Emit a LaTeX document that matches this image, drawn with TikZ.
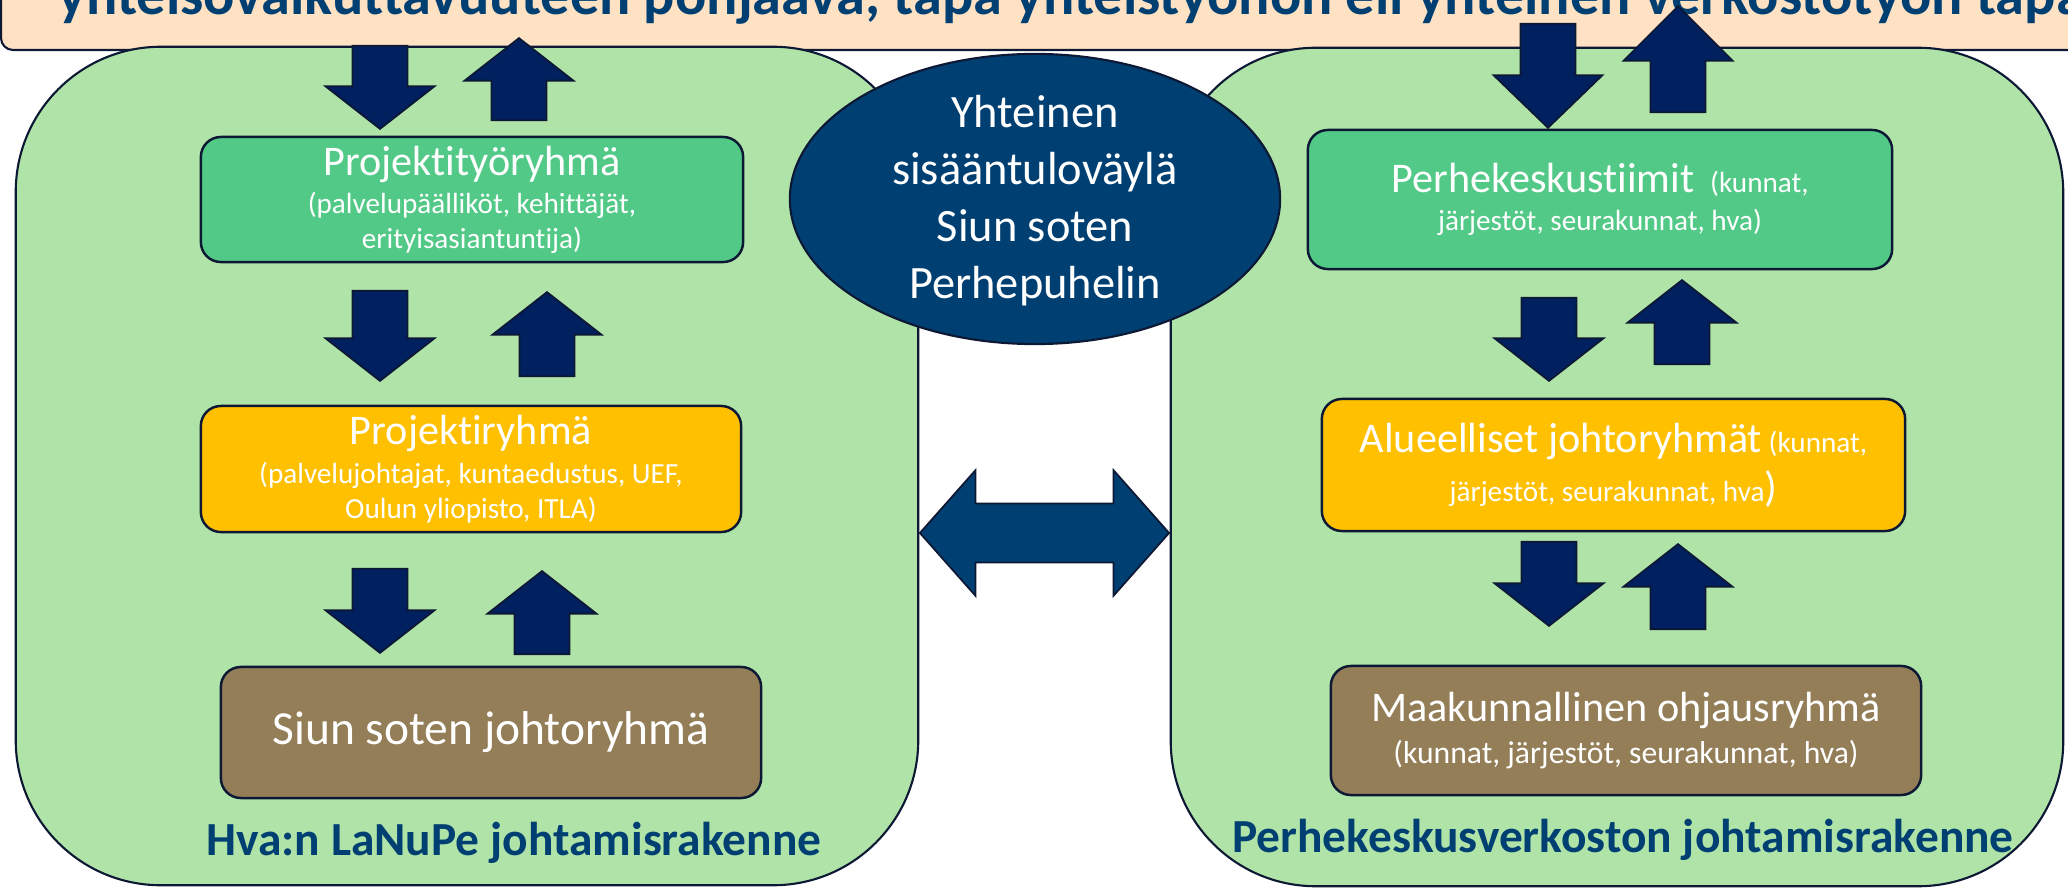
\documentclass[tikz,border=0pt]{standalone}
\usepackage{fontspec}
\setmainfont{Carlito}[Ligatures=NoCommon]
\usetikzlibrary{shapes.geometric,shapes.arrows}

\definecolor{bannerpeach}{RGB}{255,226,196}
\definecolor{visionblue}{RGB}{0,63,114}
\definecolor{areagreen}{RGB}{176,227,168}
\definecolor{teamgreen}{RGB}{82,201,135}
\definecolor{groupgold}{RGB}{255,192,0}
\definecolor{boardbrown}{RGB}{147,126,88}
\definecolor{arrownavy}{RGB}{0,32,96}
\definecolor{edgenavy}{RGB}{12,24,52}

\newcommand{\unittitle}{\fontsize{12}{14}\selectfont}
\newcommand{\unitsub}{\fontsize{8.3}{10}\selectfont}

\begin{document}
\begin{tikzpicture}[x=0.01cm, y=-0.01cm,
  area/.style={draw=edgenavy, line width=0.6pt, fill=areagreen, rounded corners=1.45cm, minimum height=8.38cm},
  arealabel/.style={anchor=base, text=visionblue, font=\bfseries\fontsize{13.5}{16}\selectfont},
  unit/.style={draw=edgenavy, line width=0.7pt, rounded corners=0.2cm, text=white, align=center, inner sep=0pt, font=\unitsub},
  blockarrow/.style={single arrow, draw=edgenavy, line width=0.5pt, fill=arrownavy, inner sep=0pt, inner ysep=0.265cm, minimum width=0pt, single arrow head extend=0.27cm, single arrow tip angle=104, anchor=tip},
  downarrow/.style={blockarrow, rotate=-90, minimum height=#1},
  uparrow/.style={blockarrow, rotate=90, minimum height=#1}]
  \useasboundingbox (0,0) rectangle (2068,888);

  \draw[edgenavy, line width=0.6pt, fill=bannerpeach, rounded corners=0.12cm] (1,-80) rectangle (2150,50);
  \node[anchor=base west, inner sep=0pt, text=visionblue, font=\bfseries\fontsize{16.6}{20}\selectfont] (visio) at (58,15) {yhteisövaikuttavuuteen pohjaava, tapa yhteistyöhön eli yhteinen verkostotyön tapa};

  \node[area, minimum width=9.02cm] (hva) at (467,466) {};
  \node[area, minimum width=8.92cm] (verkosto) at (1617,467) {};

  \node[ellipse, draw=edgenavy, line width=0.6pt, fill=visionblue, minimum width=4.9cm, minimum height=2.9cm] (vayla) at (1035,199) {};
  \node[text=white, align=center, font=\fontsize{13.2}{16.2}\selectfont] (vaylateksti) at (1035,201) {Yhteinen\\sisääntuloväylä\\Siun soten\\Perhepuhelin};

  \node[double arrow, draw=edgenavy, line width=0.5pt, fill=visionblue, inner sep=0pt, inner ysep=0.285cm, minimum width=0pt, double arrow head extend=0.335cm, double arrow tip angle=97, minimum height=2.49cm] (yhteys) at (1044.5,533) {};

  \node[unit, fill=teamgreen, minimum width=5.42cm, minimum height=1.25cm] (tyoryhma) at (472,199.5) {{\unittitle Projektityöryhmä}\\[0.8pt](palvelupäälliköt, kehittäjät,\\erityisasiantuntija)};
  \node[unit, fill=groupgold, minimum width=5.4cm, minimum height=1.26cm] (projektiryhma) at (471,469) {{\unittitle Projektiryhmä}\\[1pt](palvelujohtajat, kuntaedustus, UEF,\\Oulun yliopisto, ITLA)};
  \node[unit, fill=boardbrown, minimum width=5.4cm, minimum height=1.31cm, font=\fontsize{13.5}{16}\selectfont] (johtoryhma) at (491,732.5) {Siun soten johtoryhmä};

  \node[unit, fill=teamgreen, minimum width=5.84cm, minimum height=1.39cm] (tiimit) at (1600,199.5) {{\unittitle Perhekeskustiimit}\hspace{4.5pt}(kunnat,\\[0.8pt]järjestöt, seurakunnat, hva)};
  \node[unit, fill=groupgold, minimum width=5.83cm, minimum height=1.32cm] (alueelliset) at (1613.5,465) {{\unittitle Alueelliset johtoryhmät} (kunnat,\\[2pt]järjestöt, seurakunnat, hva{\unittitle)}};
  \node[unit, fill=boardbrown, minimum width=5.9cm, minimum height=1.29cm] (maakunnallinen) at (1626,730.5) {{\unittitle Maakunnallinen ohjausryhmä}\\[2pt]{\fontsize{9}{11}\selectfont(kunnat, järjestöt, seurakunnat, hva)}};

  \node[arealabel] (hvanimi) at (514,855) {Hva:n LaNuPe johtamisrakenne};
  \node[arealabel] (verkostonimi) at (1623,853) {Perhekeskusverkoston johtamisrakenne};

  \node[downarrow=0.83cm] (alas1) at (380,130) {};
  \node[uparrow=0.82cm] (ylos1) at (519,37) {};
  \node[downarrow=0.9cm] (alas2) at (380,382) {};
  \node[uparrow=0.84cm] (ylos2) at (547,291) {};
  \node[downarrow=0.84cm] (alas3) at (380,654) {};
  \node[uparrow=0.83cm] (ylos3) at (542,570) {};
  \node[downarrow=1.04cm, single arrow tip angle=92] (alas4) at (1548,129) {};
  \node[uparrow=1.06cm, single arrow tip angle=90] (ylos4) at (1678,5) {};
  \node[downarrow=0.83cm] (alas5) at (1549,382) {};
  \node[uparrow=0.84cm] (ylos5) at (1682,279) {};
  \node[downarrow=0.84cm] (alas6) at (1549,627) {};
  \node[uparrow=0.85cm] (ylos6) at (1678,543) {};
\end{tikzpicture}
\end{document}
